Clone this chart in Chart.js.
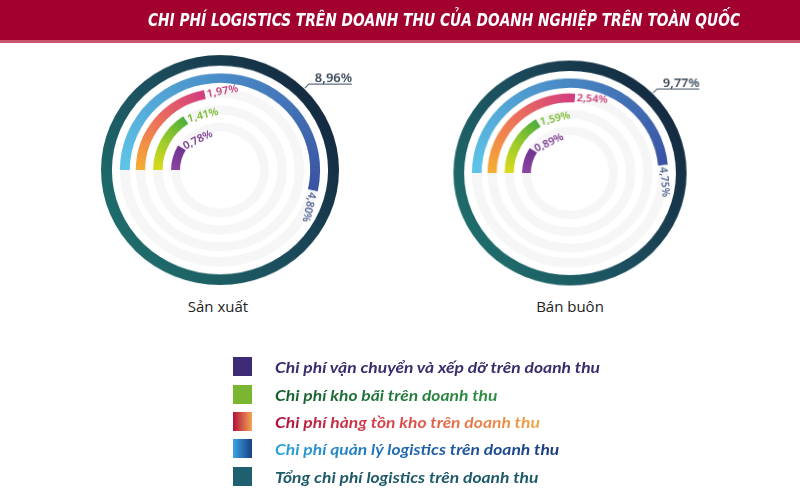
<!DOCTYPE html>
<html>
<head>
<meta charset="utf-8">
<script src="https://cdn.jsdelivr.net/npm/chart.js@4/dist/chart.umd.min.js"></script>
<style>
  html, body { margin: 0; padding: 0; background: #fff; }
  body { width: 800px; height: 500px; position: relative; overflow: hidden; font-family: "Open Sans", "Noto Sans", sans-serif; }
  .band { position: absolute; left: 0; top: 0; width: 800px; height: 40px; background: #a2002f; }
  .stripe { position: absolute; left: 0; top: 40px; width: 800px; height: 3px; background: #c9546f; }
  .title { position: absolute; left: 148px; top: 10px; color: #fff; white-space: nowrap;
    font: italic bold 17px "Liberation Sans Narrow", "DejaVu Sans Condensed", "Liberation Sans", sans-serif;
    line-height: 20px; transform-origin: 0 50%; }
  .wrap { position: absolute; width: 320px; height: 250px; transform-origin: 129px 125px; }
  .cap { position: absolute; top: 296px; width: 160px; text-align: center; font-size: 15px; color: #222; }
  .legend { position: absolute; left: 233px; top: 353px; }
  .row { display: flex; align-items: center; height: 27.4px; }
  .sw { width: 19px; height: 19px; margin-right: 23px; flex: none; }
  .lbl { font: italic bold 16px Lato, "Open Sans", sans-serif; white-space: nowrap; transform-origin: 0 50%; }
  .grad { -webkit-background-clip: text; background-clip: text; color: transparent; }
</style>
</head>
<body>
<div class="band"></div>
<div class="stripe"></div>
<div class="title" id="title">CHI PHÍ LOGISTICS TRÊN DOANH THU CỦA DOANH NGHIỆP TRÊN TOÀN QUỐC</div>

<div class="wrap" style="left:91px; top:45px; transform: scale(1, 0.966);"><canvas id="c0"></canvas></div>
<div class="wrap" style="left:441px; top:48px; transform: scale(0.98, 0.945);"><canvas id="c1"></canvas></div>
<div class="cap" style="left:138px;" id="cap0"></div>
<div class="cap" style="left:490px;" id="cap1"></div>

<div class="legend" id="legend"></div>

<script>
// data
const categories = ['Sản xuất', 'Bán buôn'];
const seriesNames = [
  'Chi phí vận chuyển và xếp dỡ trên doanh thu',
  'Chi phí kho bãi trên doanh thu',
  'Chi phí hàng tồn kho trên doanh thu',
  'Chi phí quản lý logistics trên doanh thu',
  'Tổng chi phí logistics trên doanh thu'
];
const transportCost = [0.78, 0.89];
const warehouseCost = [1.41, 1.59];
const inventoryCost = [1.97, 2.54];
const managementCost = [4.80, 4.75];
const totalCost = [8.96, 9.77];

const TRACK = '#f6f6f6';

function fmt(v){
  return v.toFixed(2).replace('.', ',') + '%';
}

// conic gradient starting at 9 o'clock, going clockwise
function conicFill(stops){
  return function(ctx){
    if (ctx.dataIndex === 1) return TRACK;
    const chart = ctx.chart;
    const area = chart.chartArea;
    if (!area) return stops[stops.length - 1][1];
    const cx = (area.left + area.right) / 2;
    const cy = (area.top + area.bottom) / 2;
    const ds = chart.data.datasets[ctx.datasetIndex];
    const frac = ds.data[0] / (ds.data[0] + ds.data[1]);
    const g = chart.ctx.createConicGradient(Math.PI, cx, cy);
    stops.forEach(([p, c]) => g.addColorStop(Math.min(p * frac, 1), c));
    g.addColorStop(1, stops[stops.length - 1][1]);
    return g;
  };
}

function tealFill(ctx){
  const chart = ctx.chart;
  const area = chart.chartArea;
  if (!area) return '#1c4f5e';
  const g = chart.ctx.createLinearGradient(area.left, area.bottom - 40, area.right, area.top + 40);
  g.addColorStop(0, '#1f736e');
  g.addColorStop(0.5, '#1c4d5d');
  g.addColorStop(1, '#13243b');
  return g;
}

function gap(w){
  return { data: [1], backgroundColor: 'rgba(0,0,0,0)', borderWidth: 0, weight: w };
}

function ring(value, total, fill, weight, labelColor){
  return {
    data: [value, Math.max(total - value, 0)],
    backgroundColor: fill,
    borderWidth: 0,
    weight,
    labelColor
  };
}

const arcLabels = {
  id: 'arcLabels',
  afterDatasetsDraw(chart){
    const ctx = chart.ctx;
    chart.data.datasets.forEach((ds, i) => {
      if (!ds.labelColor) return;
      const arc = chart.getDatasetMeta(i).data[0];
      const p = arc.getProps(['x', 'y', 'startAngle', 'endAngle', 'innerRadius', 'outerRadius'], true);
      const text = fmt(ds.data[0]);
      ctx.save();
      ctx.fillStyle = ds.labelColor;
      if (ds.isTotal) {
        // leader line from the outer ring, top right
        const a = -Math.PI / 4;
        const x0 = p.x + (p.outerRadius + 1) * Math.cos(a);
        const y0 = p.y + (p.outerRadius + 1) * Math.sin(a);
        const x1 = x0 + 4, y1 = y0 - 4;
        ctx.strokeStyle = '#5d6b7a';
        ctx.lineWidth = 1.2;
        ctx.beginPath();
        ctx.moveTo(x0, y0);
        ctx.lineTo(x1, y1);
        ctx.lineTo(x1 + 43, y1);
        ctx.stroke();
        ctx.font = '600 13px "Noto Sans", sans-serif';
        ctx.textAlign = 'left';
        ctx.textBaseline = 'alphabetic';
        ctx.fillText(text, x1 + 6, y1 - 2);
      } else {
        const r = (p.innerRadius + p.outerRadius) / 2;
        const sweep = p.endAngle - p.startAngle;
        const tangent = p.endAngle + Math.PI / 2;
        const rot = sweep > 1.3 ? tangent : tangent * 0.45;
        ctx.translate(p.x + r * Math.cos(p.endAngle), p.y + r * Math.sin(p.endAngle));
        ctx.rotate(rot);
        ctx.font = '600 11px "Noto Sans", sans-serif';
        ctx.textAlign = 'left';
        ctx.textBaseline = 'middle';
        ctx.fillText(text, 2, 0);
      }
      ctx.restore();
    });
  }
};

function makeChart(id, i){
  const total = totalCost[i];
  const outer = ring(total, total, tealFill, 11, '#3a4859');
  outer.isTotal = true;
  const datasets = [
    outer,
    gap(8),
    ring(managementCost[i], total, conicFill([[0, '#5fc6e8'], [0.45, '#4a8ec8'], [1, '#3a53a2']]), 10, '#566c98'),
    gap(6),
    ring(inventoryCost[i], total, conicFill([[0, '#f6ae33'], [0.5, '#ec705c'], [1, '#d13b80']]), 9.5, '#c8407c'),
    gap(8),
    ring(warehouseCost[i], total, conicFill([[0, '#dcdc1c'], [0.5, '#9ccb2a'], [1, '#4dae3c']]), 9.5, '#7cbc34'),
    gap(8.5),
    ring(transportCost[i], total, conicFill([[0, '#8d44a3'], [1, '#6f3390']]), 9, '#7a3a90')
  ];
  return new Chart(document.getElementById(id), {
    type: 'doughnut',
    data: { labels: ['value', 'rest'], datasets },
    options: {
      responsive: false,
      animation: false,
      events: [],
      rotation: -90,
      cutout: 40,
      layout: { padding: { left: 10, right: 72, top: 6, bottom: 6 } },
      plugins: { legend: { display: false }, tooltip: { enabled: false } }
    },
    plugins: [arcLabels]
  });
}

['c0', 'c1'].forEach((id, i) => {
  const cv = document.getElementById(id);
  cv.width = 320; cv.height = 250;
  cv.style.width = '320px'; cv.style.height = '250px';
  makeChart(id, i);
  document.getElementById('cap' + i).textContent = categories[i];
});

// legend
const swatches = [
  '#3d2b78',
  '#7ab632',
  'linear-gradient(90deg, #b3103c, #f2a552)',
  'linear-gradient(90deg, #3aa6e2, #1a3d84)',
  '#1e6070'
];
const textFills = [
  { color: '#3b2c6e' },
  { grad: 'linear-gradient(90deg, #175f30, #2e8f45)' },
  { grad: 'linear-gradient(90deg, #b0103e, #d9484c 45%, #f0a545)' },
  { grad: 'linear-gradient(90deg, #2aa3de, #1d5da8 55%, #1a3a7c)' },
  { color: '#1e5a6a' }
];
const legend = document.getElementById('legend');
seriesNames.forEach((name, k) => {
  const row = document.createElement('div');
  row.className = 'row';
  const sw = document.createElement('span');
  sw.className = 'sw';
  sw.style.background = swatches[k];
  const t = document.createElement('span');
  t.className = 'lbl';
  t.textContent = name;
  if (textFills[k].grad) { t.classList.add('grad'); t.style.backgroundImage = textFills[k].grad; }
  else t.style.color = textFills[k].color;
  row.appendChild(sw); row.appendChild(t);
  legend.appendChild(row);
});

// fit the condensed title and the legend text to the widths in the reference
const title = document.getElementById('title');
title.style.transform = 'scaleX(' + (592 / title.getBoundingClientRect().width) + ')';
const first = legend.querySelector('.lbl');
const s = 325 / first.getBoundingClientRect().width;
legend.querySelectorAll('.lbl').forEach(el => { el.style.transform = 'scaleX(' + s + ')'; });
</script>
</body>
</html>
